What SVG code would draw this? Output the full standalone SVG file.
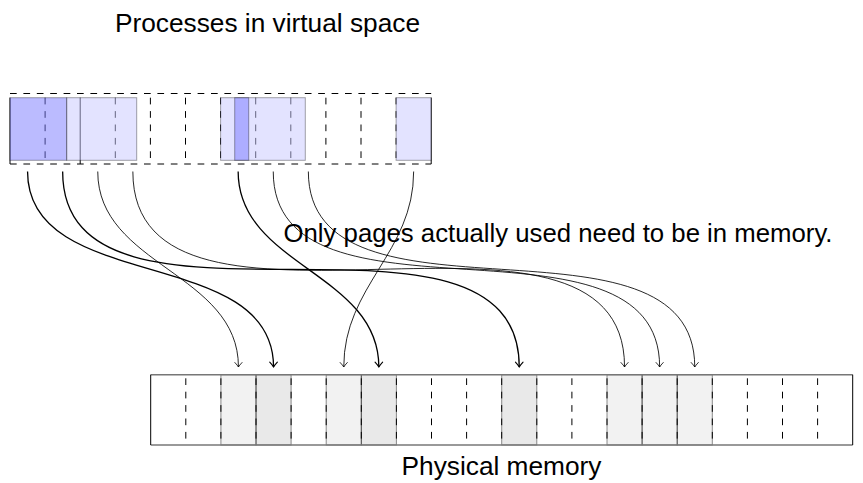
<svg xmlns="http://www.w3.org/2000/svg" width="863" height="483" viewBox="0 0 863 483">
<style>
.lbl{font-family:"Liberation Sans",Arial,sans-serif;font-size:26px;fill:#000}
.dash{stroke:#000;stroke-width:1;stroke-dasharray:6.7 6.7;fill:none}
.solid{stroke:#000;stroke-width:1;fill:none}
.dark{fill:#7777ff;fill-opacity:0.5;stroke:#000;stroke-opacity:0.35;stroke-width:1}
.light{fill:#c7c7ff;fill-opacity:0.5;stroke:#000;stroke-opacity:0.35;stroke-width:1}
.pl{fill:#000;fill-opacity:0.05;stroke:#000;stroke-opacity:0.45;stroke-width:1}
.pd{fill:#000;fill-opacity:0.085;stroke:#000;stroke-opacity:0.45;stroke-width:1}
.thin{stroke:#000;stroke-width:0.85;fill:none;marker-end:url(#ahThin)}
.thick{stroke:#000;stroke-width:1.3;fill:none;marker-end:url(#ahThick)}
</style>
<defs>
<marker id="ahThin" markerUnits="userSpaceOnUse" markerWidth="10" markerHeight="10" viewBox="-8 -5 10 10" refX="0" refY="0" orient="auto">
<path d="M -4.5 -3.6 Q -1.5 -0.8 0 0 Q -1.5 0.8 -4.5 3.6" fill="none" stroke="#000" stroke-width="0.8" stroke-linecap="round"/>
</marker>
<marker id="ahThick" markerUnits="userSpaceOnUse" markerWidth="10" markerHeight="10" viewBox="-8 -5 10 10" refX="0" refY="0" orient="auto">
<path d="M -4.8 -3.8 Q -1.6 -0.9 0 0 Q -1.6 0.9 -4.8 3.8" fill="none" stroke="#000" stroke-width="1.1" stroke-linecap="round"/>
</marker>
</defs>
<rect width="863" height="483" fill="#fff"/>

<g id="title-virtual">
<text class="lbl" x="115" y="31.5" textLength="305" lengthAdjust="spacingAndGlyphs">Processes in virtual space</text>
</g>

<g id="virtual-space">
<line class="dash" x1="10" y1="93.5" x2="431.2" y2="93.5"/>
<line class="dash" x1="10" y1="164" x2="431.2" y2="164"/>
<line class="dash" x1="45.1" y1="97.7" x2="45.1" y2="164"/>
<line class="dash" x1="115.3" y1="97.7" x2="115.3" y2="164"/>
<line class="dash" x1="150.4" y1="97.7" x2="150.4" y2="164"/>
<line class="dash" x1="185.5" y1="97.7" x2="185.5" y2="164"/>
<line class="dash" x1="220.6" y1="97.7" x2="220.6" y2="164"/>
<line class="dash" x1="255.7" y1="97.7" x2="255.7" y2="164"/>
<line class="dash" x1="290.8" y1="97.7" x2="290.8" y2="164"/>
<line class="dash" x1="325.9" y1="97.7" x2="325.9" y2="164"/>
<line class="dash" x1="361" y1="97.7" x2="361" y2="164"/>
<line class="dash" x1="396.1" y1="97.7" x2="396.1" y2="164"/>
<line class="solid" x1="10" y1="97.7" x2="10" y2="164"/>
<line class="solid" x1="80.2" y1="97.7" x2="80.2" y2="164"/>
<line class="solid" x1="431.2" y1="97.7" x2="431.2" y2="164"/>
<rect class="dark" x="10" y="97.7" width="56.7" height="62.6"/>
<rect class="light" x="66.7" y="97.7" width="70" height="62.6"/>
<rect class="light" x="220.6" y="97.7" width="84.7" height="62.6"/>
<rect class="dark" x="234.7" y="97.7" width="14" height="62.6"/>
<rect class="light" x="396.1" y="97.7" width="35.1" height="62.6"/>
</g>

<g id="note">
<text class="lbl" x="283.5" y="241.5" textLength="549" lengthAdjust="spacingAndGlyphs">Only pages actually used need to be in memory.</text>
</g>

<g id="physical-memory">
<rect class="pl" x="220.9" y="374.7" width="35.1" height="70.3"/>
<rect class="pd" x="256" y="374.7" width="35.1" height="70.3"/>
<rect class="pl" x="326.2" y="374.7" width="35.1" height="70.3"/>
<rect class="pd" x="361.3" y="374.7" width="35.1" height="70.3"/>
<rect class="pd" x="501.7" y="374.7" width="35.1" height="70.3"/>
<rect class="pl" x="607" y="374.7" width="35.1" height="70.3"/>
<rect class="pl" x="642.1" y="374.7" width="35.1" height="70.3"/>
<rect class="pl" x="677.2" y="374.7" width="35.1" height="70.3"/>
<g class="dash" style="stroke-dashoffset:9.8">
<line x1="185.8" y1="374.7" x2="185.8" y2="445"/>
<line x1="220.9" y1="374.7" x2="220.9" y2="445"/>
<line x1="256" y1="374.7" x2="256" y2="445"/>
<line x1="291.1" y1="374.7" x2="291.1" y2="445"/>
<line x1="326.2" y1="374.7" x2="326.2" y2="445"/>
<line x1="361.3" y1="374.7" x2="361.3" y2="445"/>
<line x1="396.4" y1="374.7" x2="396.4" y2="445"/>
<line x1="431.5" y1="374.7" x2="431.5" y2="445"/>
<line x1="466.6" y1="374.7" x2="466.6" y2="445"/>
<line x1="501.7" y1="374.7" x2="501.7" y2="445"/>
<line x1="536.8" y1="374.7" x2="536.8" y2="445"/>
<line x1="571.9" y1="374.7" x2="571.9" y2="445"/>
<line x1="607" y1="374.7" x2="607" y2="445"/>
<line x1="642.1" y1="374.7" x2="642.1" y2="445"/>
<line x1="677.2" y1="374.7" x2="677.2" y2="445"/>
<line x1="712.3" y1="374.7" x2="712.3" y2="445"/>
<line x1="747.4" y1="374.7" x2="747.4" y2="445"/>
<line x1="782.5" y1="374.7" x2="782.5" y2="445"/>
<line x1="817.6" y1="374.7" x2="817.6" y2="445"/>
</g>
<line x1="150.7" y1="374.7" x2="852.7" y2="374.7" stroke="#777" stroke-width="1.6"/>
<line x1="150.7" y1="445" x2="852.7" y2="445" stroke="#777" stroke-width="1.6"/>
<line class="solid" x1="150.7" y1="374.7" x2="150.7" y2="445"/>
<line class="solid" x1="852.7" y1="374.7" x2="852.7" y2="445"/>
</g>

<g id="title-physical">
<text class="lbl" x="401.5" y="475" textLength="200" lengthAdjust="spacingAndGlyphs">Physical memory</text>
</g>

<g id="connectors">
<path class="thick" d="M 27.55 171.5 C 27.55 294.7 273.55 244 273.55 367"/>
<path class="thick" d="M 62.65 171.5 C 62.65 366.1 519.25 172.6 519.25 367"/>
<path class="thin" d="M 97.75 171.5 C 97.75 265.9 238.45 272.8 238.45 367"/>
<path class="thin" d="M 132.85 171.5 C 132.85 378.8 624.55 159.9 624.55 367"/>
<path class="thick" d="M 238.15 171.5 C 238.15 265.9 378.85 272.8 378.85 367"/>
<path class="thin" d="M 273.25 171.5 C 273.25 341.2 659.65 197.5 659.65 367"/>
<path class="thin" d="M 308.35 171.5 C 308.35 341.2 694.75 197.5 694.75 367"/>
<path class="thin" d="M 413.65 171.5 C 413.65 252.9 343.75 285.8 343.75 367"/>
</g>
</svg>
